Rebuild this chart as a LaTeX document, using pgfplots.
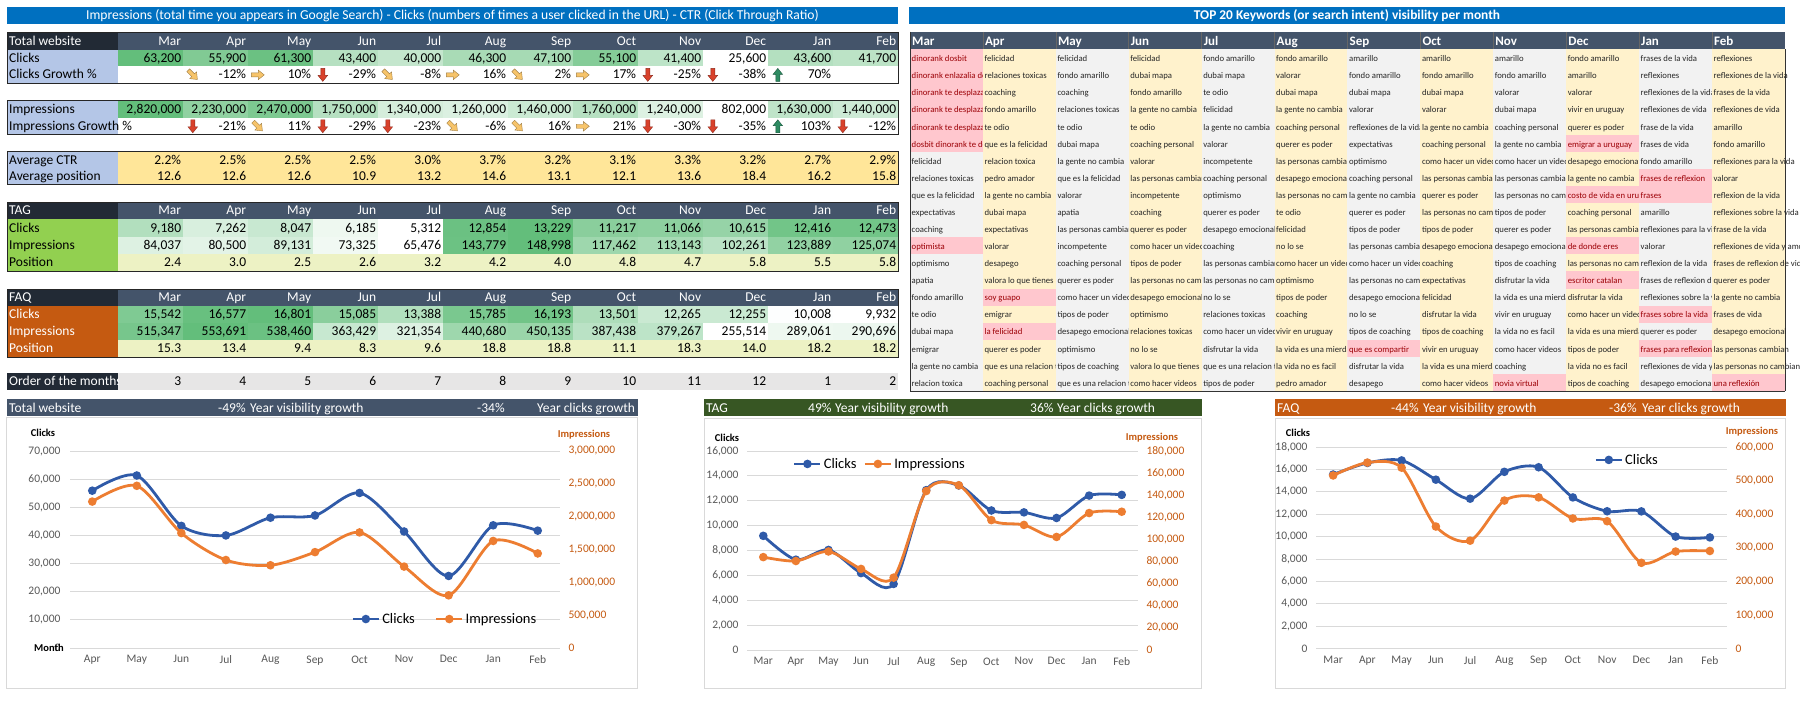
\documentclass[border=0pt]{standalone}
\usepackage{fontspec}
\setmainfont{Carlito}
\usepackage{pgfplots}
\pgfplotsset{compat=1.18}
\usetikzlibrary{arrows.meta}

\definecolor{slate}{HTML}{44546A}
\definecolor{blk}{HTML}{222A35}
\definecolor{ttl}{HTML}{0070C0}
\definecolor{lblue}{HTML}{B4C6E7}
\definecolor{hg}{HTML}{63BE7B}
\definecolor{yel}{HTML}{FFE699}
\definecolor{tagg}{HTML}{92D050}
\definecolor{faqo}{HTML}{C55A11}
\definecolor{posy}{HTML}{EDF2C4}
\definecolor{ordg}{HTML}{E7E6E6}
\definecolor{kgray}{HTML}{F2F2F2}
\definecolor{kyel}{HTML}{FFF2CC}
\definecolor{kpink}{HTML}{FFC7CE}
\definecolor{kred}{HTML}{9C0006}
\definecolor{ktext}{HTML}{262626}
\definecolor{cblue}{HTML}{2F5AA8}
\definecolor{corange}{HTML}{ED7D31}
\definecolor{tgreen}{HTML}{375623}
\definecolor{axg}{HTML}{595959}
\definecolor{grd}{HTML}{D9D9D9}
\definecolor{imporange}{HTML}{C55A11}
\definecolor{arrred}{HTML}{D9412B}
\definecolor{arrgreen}{HTML}{2E8B62}
\definecolor{arryel}{HTML}{F7C46A}

\newcommand\tf{\fontsize{13.5}{14}\selectfont}
\newcommand\kf{\fontsize{8.7}{9}\selectfont}
\newcommand\af{\fontsize{11.5}{12}\selectfont}
\newcommand\lf{\fontsize{14.5}{15}\selectfont}
\newcommand\bff{\fontsize{10.5}{11}\selectfont\bfseries}

% block arrow icon: x, y, angle, colour
\newcommand\blockarrow[4]{%
  \filldraw[fill=#4,draw=#4!65!black,line width=0.4pt,shift={({#1},{#2})},rotate=#3]
   (-6.5,-2) -- (0.5,-2) -- (0.5,-4.8) -- (6.5,0) -- (0.5,4.8) -- (0.5,2) -- (-6.5,2) -- cycle;}
\newcommand\arrD[2]{\blockarrow{#1}{#2}{-90}{arrred}}
\newcommand\arrU[2]{\blockarrow{#1}{#2}{90}{arrgreen}}
\newcommand\arrR[2]{\blockarrow{#1}{#2}{0}{arryel}}
\newcommand\arrS[2]{\blockarrow{#1}{#2}{-45}{arryel}}

% label cell: top, bottom, fill, text colour, text
\newcommand\lbl[5]{%
  \fill[#3] (7,#1) rectangle (118.3,#2);
  \node[anchor=base west,font=\tf,inner sep=0,text=#4] at (9,{#2-4.3}) {#5};}
% header row: top, bottom, label
\newcommand\hdr[3]{%
  \fill[blk] (7,#1) rectangle (118.3,#2);
  \fill[slate] (118.3,#1) rectangle (898,#2);
  \node[anchor=base west,font=\tf,inner sep=0,text=white] at (9,{#2-4.3}) {#3};
  \foreach \mm [count=\ii from 0] in {Mar,Apr,May,Jun,Jul,Aug,Sep,Oct,Nov,Dec,Jan,Feb}
    \node[anchor=base east,font=\tf,inner sep=0,text=white] at ({118.3+65*(\ii+1)-2},{#2-4.3}) {\mm};}
% heat row: top, bottom, min, max, values
\newcommand\heatrow[5]{%
  \foreach \vv [count=\ii from 0] in {#5}{%
    \edef\pp{\fpeval{round(100*(\vv-(#3))/((#4)-(#3)),0)}}%
    \fill[hg!\pp!white] ({118.3+65*\ii},#1) rectangle ({118.3+65*(\ii+1)},#2);
    \node[anchor=base east,font=\tf,inner sep=0] at ({118.3+65*(\ii+1)-2},{#2-4.3}) {\pgfmathprintnumber[fixed,precision=0,1000 sep={,},assume math mode=true]{\vv}};
  }}
% text row: bottom, list
\newcommand\txtrow[2]{%
  \foreach \ss [count=\ii from 0] in {#2}
    \node[anchor=base east,font=\tf,inner sep=0] at ({118.3+65*(\ii+1)-2},{#1-4.3}) {\ss};}
% growth row: bottom, list col/icon/text
\newcommand\growrow[2]{%
  \foreach \cc/\ty/\ss in {#2}{%
    \node[anchor=base east,font=\tf,inner sep=0] at ({118.3+65*(\cc+1)-2},{#1-4.3}) {\ss};
    \ty{118.3+65*\cc+9.5}{#1-8.4}
  }}
% keyword column: col, bg, extra clip, list
\newcommand\kwcol[4]{%
  \fill[#2] ({910+72.9*#1},49.5) rectangle ({910+72.9*(#1+1)},391);
  \foreach \ww [count=\rr from 0] in {#4}{%
    \begin{scope}
      \clip ({910+72.9*#1},{49.5+17.075*\rr}) rectangle ({910+72.9*(#1+1)+#3},{49.5+17.075*(\rr+1)});
      \node[anchor=base west,font=\kf,inner sep=0,text=ktext] at ({910+72.9*#1+1.5},{49.5+17.075*(\rr+1)-4.8}) {\ww};
    \end{scope}
  }}
\newcommand\kwpink[1]{%
  \foreach \cc/\rr/\ww in {#1}{%
    \begin{scope}
      \clip ({910+72.9*\cc},{49.5+17.075*\rr}) rectangle ({910+72.9*(\cc+1)},{49.5+17.075*(\rr+1)});
      \fill[kpink] ({910+72.9*\cc},{49.5+17.075*\rr}) rectangle ({910+72.9*(\cc+1)},{49.5+17.075*(\rr+1)});
      \node[anchor=base west,font=\kf,inner sep=0,text=kred] at ({910+72.9*\cc+1.5},{49.5+17.075*(\rr+1)-4.8}) {\ww};
    \end{scope}
  }}

\pgfplotsset{
  legend image code/.code={\draw[mark repeat=2,mark phase=2,#1] plot coordinates {(0pt,0pt) (13pt,0pt) (26pt,0pt)};},
  cbase/.style={scale only axis, anchor=south west, axis line style={draw=none},
    tick style={draw=none}, major tick length=0pt, clip=false,
    tick label style={font=\af}, scaled y ticks=false,
    /pgf/number format/assume math mode=true,
    /pgf/number format/fixed, /pgf/number format/1000 sep={,},
    legend style={draw=none, fill=none, font=\lf, anchor=center,
      /tikz/every odd column/.append style={column sep=0pt}},
    legend cell align=left},
  leftax/.style={cbase, axis y line*=left, axis x line*=bottom, ymajorgrids,
    grid style={grd,line width=0.9pt},
    yticklabel style={text=axg, xshift=-5pt}, xticklabel style={text=axg, yshift=-4pt}},
  rightax/.style={cbase, axis y line*=right, axis x line=none,
    yticklabel style={text=imporange, xshift=5pt}},
  clk/.style={color=cblue, line width=2.8pt, smooth, mark=*, mark size=2.8pt},
  imp/.style={color=corange, line width=2.8pt, smooth, mark=*, mark size=2.8pt},
}

\begin{document}
\begin{tikzpicture}[x=1pt,y=-1pt]
\path[use as bounding box, fill=white] (0,0) rectangle (1800,706);

% ---------------- title bars
\fill[ttl] (7,7.3) rectangle (898,24);
\node[font=\fontsize{13.6}{14}\selectfont,text=white,inner sep=0] at (452.5,15.8) {Impressions (total time you appears in Google Search) - Clicks (numbers of times a user clicked in the URL) - CTR (Click Through Ratio)};
\fill[ttl] (909,7.3) rectangle (1785,24);
\node[font=\fontsize{13.4}{14}\selectfont\bfseries,text=white,inner sep=0] at (1347,15.8) {TOP 20 Keywords (or search intent) visibility per month};

% ---------------- Total website table
\hdr{33}{49.7}{Total website}
\lbl{49.7}{66.5}{lblue}{black}{Clicks}
\heatrow{49.7}{66.5}{25600}{63200}{63200,55900,61300,43400,40000,46300,47100,55100,41400,25600,43600,41700}
\lbl{66.5}{83.3}{lblue}{black}{Clicks Growth \%}
\growrow{83.3}{1/\arrS/-12\%,2/\arrR/10\%,3/\arrD/-29\%,4/\arrS/-8\%,5/\arrR/16\%,6/\arrS/2\%,7/\arrR/17\%,8/\arrD/-25\%,9/\arrD/-38\%,10/\arrU/70\%}
\lbl{100.7}{118}{lblue}{black}{Impressions}
\heatrow{100.7}{118}{802000}{2820000}{2820000,2230000,2470000,1750000,1340000,1260000,1460000,1760000,1240000,802000,1630000,1440000}
\lbl{118}{134.7}{lblue}{black}{Impressions Growth \%}
\growrow{134.7}{1/\arrD/-21\%,2/\arrS/11\%,3/\arrD/-29\%,4/\arrD/-23\%,5/\arrS/-6\%,6/\arrS/16\%,7/\arrR/21\%,8/\arrD/-30\%,9/\arrD/-35\%,10/\arrU/103\%,11/\arrD/-12\%}
\fill[yel] (118.3,152) rectangle (898,185);
\lbl{152}{168.7}{lblue}{black}{Average CTR}
\txtrow{168.7}{2.2\%,2.5\%,2.5\%,2.5\%,3.0\%,3.7\%,3.2\%,3.1\%,3.3\%,3.2\%,2.7\%,2.9\%}
\lbl{168.7}{185}{lblue}{black}{Average position}
\txtrow{185}{12.6,12.6,12.6,10.9,13.2,14.6,13.1,12.1,13.6,18.4,16.2,15.8}
\draw[black!85,line width=1pt] (7,33) rectangle (898,83.3);
\draw[black!85,line width=1pt] (7,100.7) rectangle (898,134.7);
\draw[black!85,line width=1pt] (7,152) rectangle (898,185);

% ---------------- TAG table
\hdr{202}{219}{TAG}
\lbl{219}{237}{tagg}{black}{Clicks}
\heatrow{219}{237}{5312}{13229}{9180,7262,8047,6185,5312,12854,13229,11217,11066,10615,12416,12473}
\lbl{237}{254}{tagg}{black}{Impressions}
\heatrow{237}{254}{65476}{148998}{84037,80500,89131,73325,65476,143779,148998,117462,113143,102261,123889,125074}
\fill[posy] (118.3,254) rectangle (898,271);
\lbl{254}{271}{tagg}{black}{Position}
\txtrow{271}{2.4,3.0,2.5,2.6,3.2,4.2,4.0,4.8,4.7,5.8,5.5,5.8}
\draw[black!85,line width=1pt] (7,202) rectangle (898,271);

% ---------------- FAQ table
\hdr{289}{306}{FAQ}
\lbl{306}{323}{faqo}{white}{Clicks}
\heatrow{306}{323}{9932}{16801}{15542,16577,16801,15085,13388,15785,16193,13501,12265,12255,10008,9932}
\lbl{323}{340}{faqo}{white}{Impressions}
\heatrow{323}{340}{255514}{553691}{515347,553691,538460,363429,321354,440680,450135,387438,379267,255514,289061,290696}
\fill[posy] (118.3,340) rectangle (898,357);
\lbl{340}{357}{faqo}{white}{Position}
\txtrow{357}{15.3,13.4,9.4,8.3,9.6,18.8,18.8,11.1,18.3,14.0,18.2,18.2}
\draw[black!85,line width=1pt] (7,289) rectangle (898,357);

% ---------------- Order of the months
\fill[ordg] (118.3,373) rectangle (898,390);
\fill[blk] (7,373) rectangle (118.3,390);
\begin{scope}
\clip (7,373) rectangle (118.3,390);
\node[anchor=base west,font=\tf,inner sep=0,text=white] at (9,{390-4.3}) {Order of the months};
\end{scope}
\txtrow{390}{3,4,5,6,7,8,9,10,11,12,1,2}

% ---------------- Keyword table
\fill[slate] (910,32) rectangle (1785,49.5);
\foreach \mm [count=\ii from 0] in {Mar,Apr,May,Jun,Jul,Aug,Sep,Oct,Nov,Dec,Jan,Feb}{
  \node[anchor=base west,font=\fontsize{13}{14}\selectfont\bfseries,inner sep=0,text=white] at ({910+72.9*\ii+2},{49.5-4}) {\mm};
  \draw[black!60,line width=0.6pt] ({910+72.9*\ii},32) -- ({910+72.9*\ii},49.5);
}
\kwcol{0}{kgray}{0}{dinorank dosbit,dinorank enlazalia dosbit,dinorank te desplaza,dinorank te desplaza,dinorank te desplaza,dosbit dinorank te desplaza,felicidad,relaciones toxicas,que es la felicidad,expectativas,coaching,optimista,optimismo,apatia,fondo amarillo,te odio,dubai mapa,emigrar,la gente no cambia,relacion toxica}
\kwcol{1}{kyel}{0}{felicidad,relaciones toxicas,coaching,fondo amarillo,te odio,que es la felicidad,relacion toxica,pedro amador,la gente no cambia,dubai mapa,expectativas,valorar,desapego,valora lo que tienes,soy guapo,emigrar,la felicidad,querer es poder,que es una relacion toxica,coaching personal}
\kwcol{2}{kgray}{0}{felicidad,fondo amarillo,coaching,relaciones toxicas,te odio,dubai mapa,la gente no cambia,que es la felicidad,valorar,apatia,las personas cambian,incompetente,coaching personal,querer es poder,como hacer un video,tipos de poder,desapego emocional,optimismo,tipos de coaching,que es una relacion toxica}
\kwcol{3}{kyel}{0}{felicidad,dubai mapa,fondo amarillo,la gente no cambia,te odio,coaching personal,valorar,las personas cambian,incompetente,coaching,querer es poder,como hacer un video,tipos de poder,las personas no cambian,desapego emocional,optimismo,relaciones toxicas,no lo se,valora lo que tienes,como hacer videos}
\kwcol{4}{kgray}{0}{fondo amarillo,dubai mapa,te odio,felicidad,la gente no cambia,valorar,incompetente,coaching personal,optimismo,querer es poder,desapego emocional,coaching,las personas cambian,las personas no cambian,no lo se,relaciones toxicas,como hacer un video,disfrutar la vida,que es una relacion toxica,tipos de poder}
\kwcol{5}{kyel}{0}{fondo amarillo,valorar,dubai mapa,la gente no cambia,coaching personal,querer es poder,las personas cambian,desapego emocional,las personas no cambian,te odio,felicidad,no lo se,como hacer un video,optimismo,tipos de poder,coaching,vivir en uruguay,la vida es una mierda,la vida no es facil,pedro amador}
\kwcol{6}{kgray}{0}{amarillo,fondo amarillo,dubai mapa,valorar,reflexiones de la vida,expectativas,optimismo,coaching personal,la gente no cambia,querer es poder,tipos de poder,las personas cambian,como hacer un video,las personas no cambian,desapego emocional,no lo se,tipos de coaching,que es compartir,disfrutar la vida,desapego}
\kwcol{7}{kyel}{0}{amarillo,fondo amarillo,dubai mapa,valorar,la gente no cambia,coaching personal,como hacer un video,las personas cambian,querer es poder,las personas no cambian,tipos de poder,desapego emocional,coaching,expectativas,felicidad,disfrutar la vida,tipos de coaching,vivir en uruguay,la vida es una mierda,como hacer videos}
\kwcol{8}{kgray}{0}{amarillo,fondo amarillo,valorar,dubai mapa,coaching personal,la gente no cambia,como hacer un video,las personas cambian,las personas no cambian,tipos de poder,querer es poder,desapego emocional,tipos de coaching,disfrutar la vida,la vida es una mierda,vivir en uruguay,la vida no es facil,como hacer videos,coaching,novia virtual}
\kwcol{9}{kyel}{0}{fondo amarillo,amarillo,valorar,vivir en uruguay,querer es poder,emigrar a uruguay,desapego emocional,la gente no cambia,costo de vida en uruguay,coaching personal,las personas cambian,de donde eres,las personas no cambian,escritor catalan,disfrutar la vida,como hacer un video,la vida es una mierda,tipos de poder,la vida no es facil,tipos de coaching}
\kwcol{10}{kgray}{0}{frases de la vida,reflexiones,reflexiones de la vida,reflexiones de vida,frase de la vida,frases de vida,fondo amarillo,frases de reflexion,frases,amarillo,reflexiones para la vida,valorar,reflexion de la vida,frases de reflexion de vida,reflexiones sobre la vida,frases sobre la vida,querer es poder,frases para reflexion,reflexiones de vida y amor,desapego emocional}
\draw[black!80,line width=1pt] (1785,49.5) -- (1785,391);
\kwcol{11}{kyel}{15}{reflexiones,reflexiones de la vida,frases de la vida,reflexiones de vida,amarillo,fondo amarillo,reflexiones para la vida,valorar,reflexion de la vida,reflexiones sobre la vida,frase de la vida,reflexiones de vida y amor,frases de reflexion de vida,querer es poder,la gente no cambia,frases de vida,desapego emocional,las personas cambian,las personas no cambian,una reflexión}
\kwpink{0/0/dinorank dosbit,0/1/dinorank enlazalia dosbit,0/2/dinorank te desplaza,0/3/dinorank te desplaza,0/4/dinorank te desplaza,0/5/dosbit dinorank te desplaza,0/11/optimista,1/14/soy guapo,1/16/la felicidad,6/17/que es compartir,8/19/novia virtual,9/5/emigrar a uruguay,9/8/costo de vida en uruguay,9/11/de donde eres,9/13/escritor catalan,10/7/frases de reflexion,10/8/frases,10/15/frases sobre la vida,10/17/frases para reflexion,11/19/una reflexión}
\draw[black!80,line width=1pt] (910,32) -- (910,391) -- (1785,391);

% ---------------- chart frames and header bars
\draw[grd,line width=1pt,fill=white] (6.7,417.7) rectangle (637,688);
\fill[slate] (7,399) rectangle (637.5,416);
\node[anchor=base west,font=\tf,text=white,inner sep=0] at (9,412) {Total website};
\node[anchor=base west,font=\tf,text=white,inner sep=0] at (218,412) {-49\%};
\node[anchor=base west,font=\tf,text=white,inner sep=0] at (250,412) {Year visibility growth};
\node[anchor=base west,font=\tf,text=white,inner sep=0] at (477,412) {-34\%};
\node[anchor=base west,font=\tf,text=white,inner sep=0] at (537,412) {Year clicks growth};

\draw[grd,line width=1pt,fill=white] (704,418) rectangle (1201,688);
\fill[tgreen] (704,399) rectangle (1202,416);
\node[anchor=base west,font=\tf,text=white,inner sep=0] at (706,412) {TAG};
\node[anchor=base west,font=\tf,text=white,inner sep=0] at (808,412) {49\%};
\node[anchor=base west,font=\tf,text=white,inner sep=0] at (835,412) {Year visibility growth};
\node[anchor=base west,font=\tf,text=white,inner sep=0] at (1030,412) {36\%};
\node[anchor=base west,font=\tf,text=white,inner sep=0] at (1057,412) {Year clicks growth};

\draw[grd,line width=1pt,fill=white] (1275,418) rectangle (1785,688);
\fill[faqo] (1275,399) rectangle (1786,416);
\node[anchor=base west,font=\tf,text=white,inner sep=0] at (1277,412) {FAQ};
\node[anchor=base west,font=\tf,text=white,inner sep=0] at (1391,412) {-44\%};
\node[anchor=base west,font=\tf,text=white,inner sep=0] at (1423,412) {Year visibility growth};
\node[anchor=base west,font=\tf,text=white,inner sep=0] at (1609,412) {-36\%};
\node[anchor=base west,font=\tf,text=white,inner sep=0] at (1642,412) {Year clicks growth};

% ---------------- Chart 1: Total website
\begin{axis}[leftax, at={(70pt,-648pt)}, width=490pt, height=197pt,
  xmin=-0.5, xmax=10.5, ymin=0, ymax=70000,
  ytick={0,10000,20000,30000,40000,50000,60000,70000},
  xtick={0,...,10}, xticklabels={Apr,May,Jun,Jul,Aug,Sep,Oct,Nov,Dec,Jan,Feb},
  yticklabel style={xshift=-1pt}]
\addplot[clk] coordinates {(0,55900) (1,61300) (2,43400) (3,40000) (4,46300) (5,47100) (6,55100) (7,41400) (8,25600) (9,43600) (10,41700)};
\end{axis}
\begin{axis}[rightax, at={(70pt,-648pt)}, width=490pt, height=197pt,
  xmin=-0.5, xmax=10.5, ymin=0, ymax=3000000,
  ytick={0,500000,1000000,1500000,2000000,2500000,3000000},
  legend style={at={(0.765,0.147)}, legend columns=2,
    /tikz/every even column/.append style={column sep=18pt}}]
\addlegendimage{clk}
\addlegendentry{Clicks}
\addplot[imp] coordinates {(0,2230000) (1,2470000) (2,1750000) (3,1340000) (4,1260000) (5,1460000) (6,1760000) (7,1240000) (8,802000) (9,1630000) (10,1440000)};
\addlegendentry{Impressions}
\end{axis}
\node[font=\bff] at (43,433) {Clicks};
\node[font=\bff,text=imporange] at (584,435) {Impressions};
\node[font=\bff] at (49,648) {Month};

% ---------------- Chart 2: TAG
\begin{axis}[leftax, at={(747pt,-650pt)}, width=391pt, height=199pt,
  xmin=-0.5, xmax=11.5, ymin=0, ymax=16000,
  ytick={0,2000,4000,6000,8000,10000,12000,14000,16000},
  xtick={0,...,11}, xticklabels={Mar,Apr,May,Jun,Jul,Aug,Sep,Oct,Nov,Dec,Jan,Feb}]
\addplot[clk] coordinates {(0,9180) (1,7262) (2,8047) (3,6185) (4,5312) (5,12854) (6,13229) (7,11217) (8,11066) (9,10615) (10,12416) (11,12473)};
\end{axis}
\begin{axis}[rightax, at={(747pt,-650pt)}, width=391pt, height=199pt,
  xmin=-0.5, xmax=11.5, ymin=0, ymax=180000,
  ytick={0,20000,40000,60000,80000,100000,120000,140000,160000,180000},
  legend style={at={(0.34,0.935)}, legend columns=2,
    /tikz/every even column/.append style={column sep=5pt}}]
\addlegendimage{clk}
\addlegendentry{Clicks}
\addplot[imp] coordinates {(0,84037) (1,80500) (2,89131) (3,73325) (4,65476) (5,143779) (6,148998) (7,117462) (8,113143) (9,102261) (10,123889) (11,125074)};
\addlegendentry{Impressions}
\end{axis}
\node[font=\bff] at (727,438) {Clicks};
\node[font=\bff,text=imporange] at (1152,438) {Impressions};

% ---------------- Chart 3: FAQ
\begin{axis}[leftax, at={(1316pt,-648.7pt)}, width=411pt, height=201.7pt,
  xmin=-0.5, xmax=11.5, ymin=0, ymax=18000,
  ytick={0,2000,4000,6000,8000,10000,12000,14000,16000,18000},
  xtick={0,...,11}, xticklabels={Mar,Apr,May,Jun,Jul,Aug,Sep,Oct,Nov,Dec,Jan,Feb},
  legend style={at={(0.757,0.936)}}]
\addplot[clk] coordinates {(0,15542) (1,16577) (2,16801) (3,15085) (4,13388) (5,15785) (6,16193) (7,13501) (8,12265) (9,12255) (10,10008) (11,9932)};
\addlegendentry{Clicks}
\end{axis}
\begin{axis}[rightax, at={(1316pt,-648.7pt)}, width=411pt, height=201.7pt,
  xmin=-0.5, xmax=11.5, ymin=0, ymax=600000,
  ytick={0,100000,200000,300000,400000,500000,600000}]
\addplot[imp] coordinates {(0,515347) (1,553691) (2,538460) (3,363429) (4,321354) (5,440680) (6,450135) (7,387438) (8,379267) (9,255514) (10,289061) (11,290696)};
\end{axis}
\node[font=\bff] at (1298,433) {Clicks};
\node[font=\bff,text=imporange] at (1752,432) {Impressions};
\end{tikzpicture}
\end{document}
